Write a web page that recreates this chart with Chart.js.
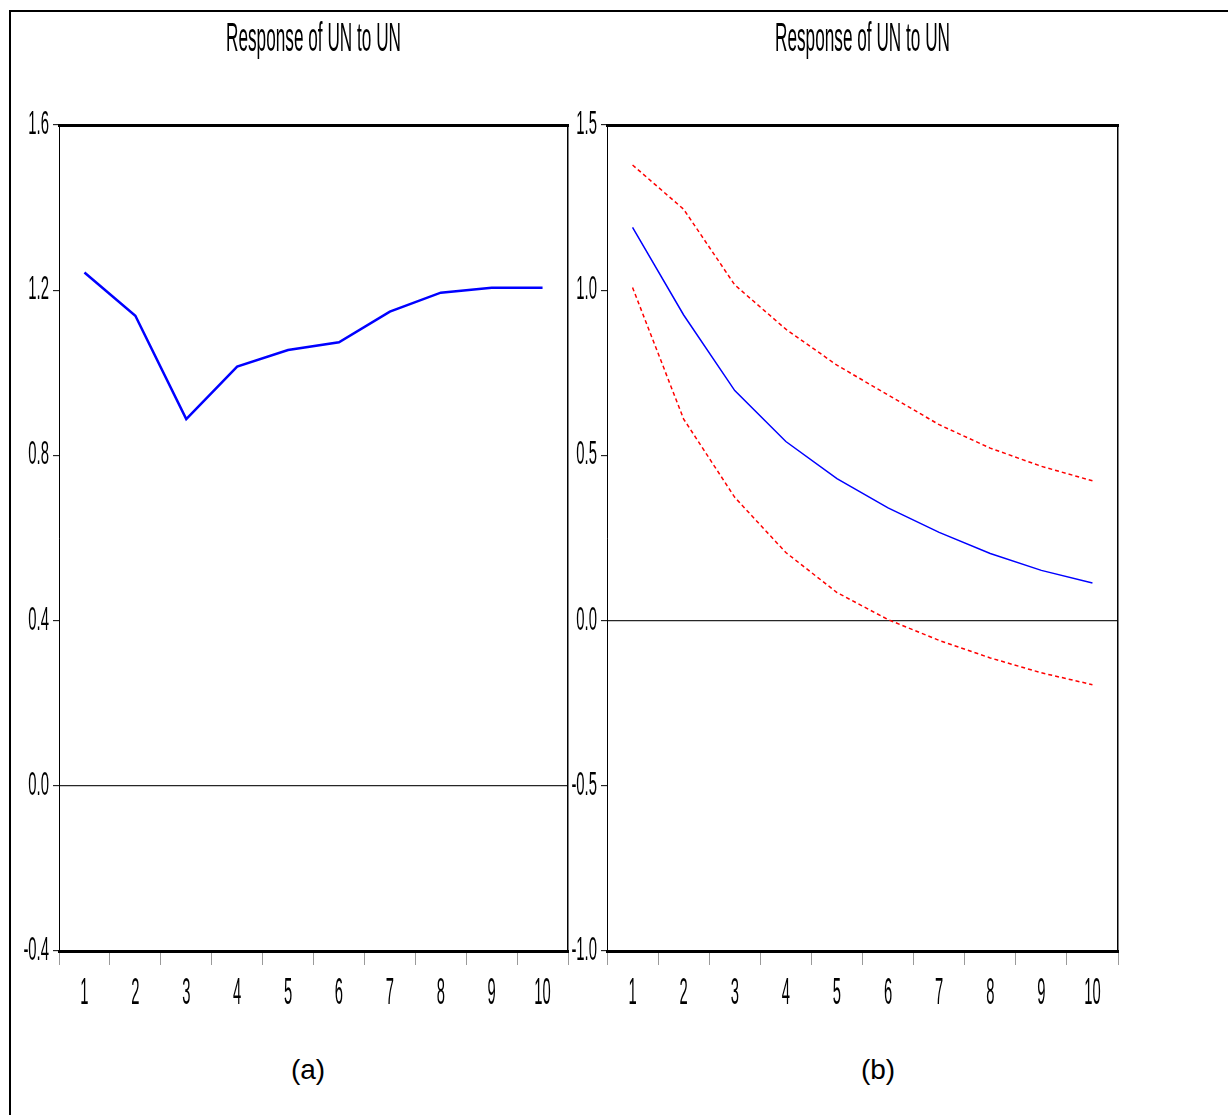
<!DOCTYPE html>
<html>
<head>
<meta charset="utf-8">
<script src="https://cdn.jsdelivr.net/npm/chart.js@4.4.1/dist/chart.umd.min.js"></script>
<style>
  html, body { margin: 0; padding: 0; background: #fff; }
  body { width: 1228px; height: 1115px; position: relative; overflow: hidden; }
  #frame { position: absolute; left: 9px; top: 10px; width: 1230px; height: 1120px;
           border-top: 2px solid #000; border-left: 2px solid #000; }
  canvas { position: absolute; top: 0; }
  #cA { left: 0px; }
  #cB { left: 560px; }
  .cap { position: absolute; top: 1054px; font-family: "Liberation Sans", Arial, sans-serif;
         font-size: 28px; color: #000; transform: translateX(-50%); }
</style>
</head>
<body>
<div id="frame"></div>
<canvas id="cA" width="590" height="1030"></canvas>
<canvas id="cB" width="580" height="1030"></canvas>
<div class="cap" style="left:308px">(a)</div>
<div class="cap" style="left:878px">(b)</div>
<script>
// ---- data ----
const periods = ['1','2','3','4','5','6','7','8','9','10'];
const titleText = 'Response of UN to UN';
const responseA = [1.243, 1.138, 0.888, 1.015, 1.055, 1.074, 1.148, 1.194, 1.206, 1.206];
const responseB = [1.190, 0.925, 0.696, 0.542, 0.430, 0.341, 0.267, 0.203, 0.152, 0.114];
const upperB    = [1.379, 1.245, 1.016, 0.882, 0.773, 0.683, 0.593, 0.522, 0.467, 0.423];
const lowerB    = [1.008, 0.610, 0.373, 0.206, 0.085, 0.003, -0.060, -0.113, -0.158, -0.194];
const yTicksA = [-0.4, 0.0, 0.4, 0.8, 1.2, 1.6];
const yTicksB = [-1.0, -0.5, 0.0, 0.5, 1.0, 1.5];

const FONT = '"Liberation Sans", Arial, sans-serif';
const TITLE_SIZE = 40, YTICK_SIZE = 33, XTICK_SIZE = 36;
const squeeze = { 40: 0.43, 33: 0.45, 36: 0.41 };

function condense(canvas) {
  const ctx = canvas.getContext('2d');
  const orig = CanvasRenderingContext2D.prototype.fillText;
  ctx.fillText = function (t, x, y) {
    const m = /(\d+(?:\.\d+)?)px/.exec(this.font);
    const sx = (m && squeeze[Math.round(parseFloat(m[1]))]) || 0.45;
    this.save();
    this.translate(x, y);
    this.scale(sx, 1);
    orig.call(this, t, 0, 0);
    this.restore();
  };
}

function fmt(v) { return Math.abs(v) < 1e-9 ? '0.0' : v.toFixed(1); }

function makeChart(id, datasets, yTicks, yWidth, padRight) {
  const canvas = document.getElementById(id);
  condense(canvas);
  return new Chart(canvas, {
    type: 'line',
    data: { labels: periods, datasets: datasets },
    options: {
      responsive: false,
      animation: false,
      devicePixelRatio: 1,
      layout: { padding: { left: 0, right: padRight, top: 0, bottom: 0 } },
      plugins: {
        legend: { display: false },
        tooltip: { enabled: false },
        title: {
          display: true, text: titleText, fullSize: false, color: '#000',
          font: { family: FONT, size: TITLE_SIZE, weight: 'normal', lineHeight: 1.2 },
          padding: { top: 16, bottom: 61 }
        }
      },
      elements: { point: { radius: 0 }, line: { tension: 0 } },
      scales: {
        x: {
          type: 'category', position: 'bottom', offset: true,
          grid: { offset: true, drawOnChartArea: false, drawTicks: true, tickLength: 14, color: '#9a9a9a', lineWidth: 1 },
          border: { display: true, color: '#000', width: 3 },
          ticks: { color: '#000', font: { family: FONT, size: XTICK_SIZE }, padding: 7, maxRotation: 0, autoSkip: false },
          afterFit: s => { s.height = 79; }
        },
        x2: {
          type: 'category', position: 'top', offset: true, labels: periods,
          grid: { display: false, drawTicks: false },
          border: { display: true, color: '#000', width: 3 },
          ticks: { display: false },
          afterFit: s => { s.height = 0; }
        },
        y: {
          type: 'linear', position: 'left',
          min: yTicks[0], max: yTicks[yTicks.length - 1],
          afterBuildTicks: s => { s.ticks = yTicks.map(v => ({ value: v })); },
          grid: {
            drawOnChartArea: true, drawTicks: true, tickLength: 6,
            color: c => (c.tick && Math.abs(c.tick.value) < 1e-9) ? '#262626' : 'rgba(0,0,0,0)',
            lineWidth: 1.3, tickColor: '#000', tickWidth: 1
          },
          border: { display: true, color: '#000', width: 1 },
          ticks: { color: '#000', font: { family: FONT, size: YTICK_SIZE }, padding: 4, callback: v => fmt(v) },
          afterFit: s => { s.width = yWidth; }
        },
        y2: {
          type: 'linear', position: 'right',
          min: yTicks[0], max: yTicks[yTicks.length - 1],
          grid: { display: false, drawTicks: false },
          border: { display: true, color: '#000', width: 1.5 },
          ticks: { display: false },
          afterFit: s => { s.width = 0; }
        }
      }
    }
  });
}

makeChart('cA', [
  { data: responseA, borderColor: '#0000ff', borderWidth: 2.5, fill: false }
], yTicksA, 59, 590 - 568);

makeChart('cB', [
  { data: upperB, borderColor: '#ff0000', borderWidth: 1.5, borderDash: [4, 3], fill: false },
  { data: responseB, borderColor: '#0000ff', borderWidth: 1.5, fill: false },
  { data: lowerB, borderColor: '#ff0000', borderWidth: 1.5, borderDash: [4, 3], fill: false }
], yTicksB, 47, 580 - (1118 - 560));
</script>
</body>
</html>
